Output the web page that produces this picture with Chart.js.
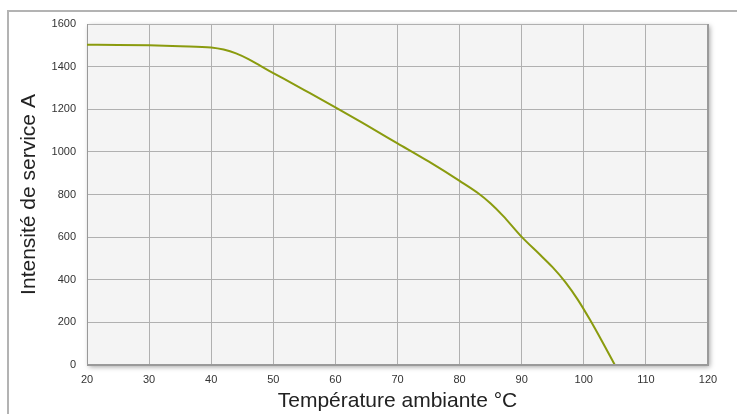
<!DOCTYPE html>
<html>
<head>
<meta charset="utf-8">
<script src="https://cdn.jsdelivr.net/npm/chart.js@4/dist/chart.umd.min.js"></script>
<style>
html,body{margin:0;padding:0;background:#fff;}
#wrap{position:relative;width:737px;height:414px;}
</style>
</head>
<body>
<div id="wrap"><canvas id="c" width="737" height="414"></canvas></div>
<script>
const temperatures = [20, 25, 30, 35, 40, 42, 44, 46, 48, 50, 55, 60, 65, 70, 75, 80, 83, 85, 87, 90, 93, 95, 97, 99, 101, 103, 105];
const currents = [1503, 1502, 1500, 1496, 1490, 1480, 1462, 1435, 1402, 1370, 1290, 1209, 1125, 1040, 955, 864, 806, 758, 700, 601, 516, 458, 390, 308, 212, 108, 0];
const xTitle = 'Température ambiante °C';
const yTitle = 'Intensité de service A';

const points = temperatures.map((t, i) => ({x: t, y: currents[i]}));

const framePlugin = {
  id: 'frame',
  beforeDraw(chart) {
    const ctx = chart.ctx;
    const a = chart.chartArea;
    ctx.save();
    ctx.strokeStyle = '#b3b3b3';
    ctx.lineWidth = 2;
    ctx.strokeRect(8, 11, 800, 500);
    ctx.shadowColor = 'rgba(0,0,0,0.35)';
    ctx.shadowBlur = 5;
    ctx.shadowOffsetX = 2;
    ctx.shadowOffsetY = 2;
    ctx.fillStyle = '#f4f4f4';
    ctx.fillRect(a.left, a.top, a.right - a.left, a.bottom - a.top);
    ctx.restore();
  },
  afterDatasetsDraw(chart) {
    const ctx = chart.ctx;
    const a = chart.chartArea;
    ctx.save();
    ctx.strokeStyle = '#9a9a9a';
    ctx.lineWidth = 2;
    ctx.beginPath();
    ctx.moveTo(a.right, a.top);
    ctx.lineTo(a.right, a.bottom);
    ctx.lineTo(a.left, a.bottom);
    ctx.stroke();
    ctx.restore();
  }
};

const FONT = 'Liberation Sans, Arial, sans-serif';

new Chart(document.getElementById('c'), {
  type: 'line',
  data: {
    datasets: [{
      data: points,
      borderColor: '#8a9b0e',
      borderWidth: 2,
      pointRadius: 0,
      fill: false,
      cubicInterpolationMode: 'monotone'
    }]
  },
  options: {
    responsive: false,
    animation: false,
    layout: {padding: {top: 24, right: 29, left: 0, bottom: 0}},
    plugins: {legend: {display: false}, tooltip: {enabled: false}},
    scales: {
      x: {
        type: 'linear',
        min: 20, max: 120,
        afterFit(s) { s.height = 49; },
        ticks: {stepSize: 10, color: '#333', padding: 8, font: {family: FONT, size: 11}, callback: v => String(v)},
        grid: {color: '#b0b0b0', lineWidth: 1, drawTicks: false},
        border: {color: '#999', width: 1},
        title: {display: true, text: xTitle, color: '#222', padding: {top: 0, bottom: 2}, font: {family: FONT, size: 21, lineHeight: 1}}
      },
      y: {
        min: 0, max: 1600,
        afterFit(s) { s.width = 87; },
        ticks: {stepSize: 200, color: '#333', padding: 11, font: {family: FONT, size: 11}, callback: v => String(v)},
        grid: {color: '#b0b0b0', lineWidth: 1, drawTicks: false},
        border: {color: '#999', width: 1},
        title: {display: true, text: yTitle, color: '#222', padding: {top: 19, bottom: 0}, font: {family: FONT, size: 21, lineHeight: 1}}
      }
    }
  },
  plugins: [framePlugin]
});
</script>
</body>
</html>
